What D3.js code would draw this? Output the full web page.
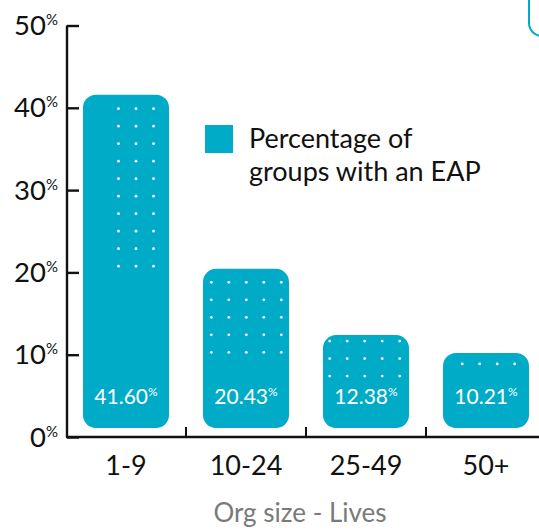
<!DOCTYPE html>
<html>
<head>
<meta charset="utf-8">
<script src="https://cdn.jsdelivr.net/npm/d3@7"></script>
<style>
  html, body { margin: 0; padding: 0; background: #fff; }
  svg { display: block; font-family: Lato, "Open Sans", sans-serif; }
</style>
</head>
<body>
<svg id="chart" width="539" height="530"></svg>
<script>
// Share of groups offering an Employee Assistance Program, by org size
const categories = ["1-9", "10-24", "25-49", "50+"];
const values = [41.60, 20.43, 12.38, 10.21];
const yTicks = [0, 10, 20, 30, 40, 50];
const legendLines = ["Percentage of", "groups with an EAP"];
const xTitle = "Org size - Lives";

// decorative dot grid inside each bar: columns x rows
const dotCols = [3, 5, 5, 4];
const dotRows = [10, 5, 3, 1];

const teal = "#00abc7";
const svg = d3.select("#chart");

const x = d3.scaleBand()
  .domain(categories)
  .range([66, 546])
  .paddingInner(34 / 120)
  .paddingOuter(17 / 120);

const y = d3.scaleLinear().domain([0, 50]).range([437, 25.5]);

const barBottom = y(0) - 9;

// box edge peeking in at the top right
svg.append("rect")
  .attr("x", 529).attr("y", -60)
  .attr("width", 120).attr("height", 96)
  .attr("rx", 13)
  .attr("fill", "none").attr("stroke", teal).attr("stroke-width", 2);

// bars
const bars = svg.append("g").selectAll("g.bar")
  .data(categories.map((c, i) => ({ c, v: values[i], i })))
  .join("g").attr("class", "bar");

bars.append("rect")
  .attr("x", d => x(d.c))
  .attr("y", d => y(d.v))
  .attr("width", x.bandwidth())
  .attr("height", d => barBottom - y(d.v))
  .attr("rx", 13)
  .attr("fill", teal);

// dot grids
const dotStep = 17.5;
const dotInsetRight = [15.5, 7.7, 9.3, 14.3];
const dotInsetTop = [14, 13.5, 6, 11];
bars.each(function (d) {
  const g = d3.select(this);
  const right = x(d.c) + x.bandwidth() - dotInsetRight[d.i];
  const top = y(d.v) + dotInsetTop[d.i];
  const pts = [];
  for (let r = 0; r < dotRows[d.i]; r++)
    for (let k = 0; k < dotCols[d.i]; k++)
      pts.push([right - (dotCols[d.i] - 1 - k) * dotStep, top + r * dotStep]);
  g.selectAll("circle").data(pts).join("circle")
    .attr("cx", p => p[0]).attr("cy", p => p[1])
    .attr("r", 1.4).attr("fill", "#fff");
});

// value labels
const vl = bars.append("text")
  .attr("x", d => x(d.c) + x.bandwidth() / 2)
  .attr("y", barBottom - 24)
  .attr("text-anchor", "middle")
  .attr("fill", "#fff")
  .attr("font-size", 21)
  .attr("font-weight", 400);
vl.append("tspan").text(d => d.v.toFixed(2));
vl.append("tspan").text("%").attr("font-size", 12).attr("dy", -8);

// y axis
const yAxis = svg.append("g").attr("transform", "translate(67,0)")
  .call(d3.axisRight(y).tickValues(yTicks).tickSize(12).tickFormat(""));
yAxis.select(".domain").attr("d", `M0,${y(50)}V${y(0)}`)
  .attr("stroke", "#111").attr("stroke-width", 2.4);
yAxis.selectAll(".tick line").attr("stroke", "#111").attr("stroke-width", 2.4);

const yl = svg.append("g").selectAll("text").data(yTicks).join("text")
  .attr("x", 58)
  .attr("y", d => y(d) + 9.5)
  .attr("text-anchor", "end")
  .attr("fill", "#111")
  .attr("font-size", 27.5);
yl.append("tspan").text(d => d);
yl.append("tspan").text("%").attr("font-size", 15).attr("dy", -10);

// x axis
const xAxis = svg.append("g").attr("transform", `translate(0,${y(0)})`)
  .call(d3.axisTop(x).tickSize(0).tickFormat(""));
xAxis.select(".domain").attr("d", `M66,0H540`)
  .attr("stroke", "#111").attr("stroke-width", 2.6);
xAxis.selectAll(".tick").remove();
// separators between categories
const seps = categories.slice(1).map(c => x(c) - x.step() * x.paddingInner() / 2);
xAxis.selectAll("line.sep").data(seps).join("line")
  .attr("class", "sep")
  .attr("x1", d => d).attr("x2", d => d)
  .attr("y1", 0).attr("y2", -10)
  .attr("stroke", "#111").attr("stroke-width", 2);

svg.append("g").selectAll("text").data(categories).join("text")
  .attr("x", d => x(d) + x.bandwidth() / 2)
  .attr("y", 475)
  .attr("text-anchor", "middle")
  .attr("fill", "#111")
  .attr("font-size", 27)
  .text(d => d);

svg.append("text")
  .attr("x", 300).attr("y", 522)
  .attr("text-anchor", "middle")
  .attr("fill", "#7a7a7a")
  .attr("font-size", 26)
  .text(xTitle);

// legend
svg.append("rect")
  .attr("x", 205).attr("y", 125).attr("width", 28).attr("height", 28)
  .attr("fill", teal);
svg.append("g").selectAll("text").data(legendLines).join("text")
  .attr("x", 249)
  .attr("y", (d, i) => 148 + i * 33)
  .attr("fill", "#111")
  .attr("font-size", 27)
  .text(d => d);
</script>
</body>
</html>
